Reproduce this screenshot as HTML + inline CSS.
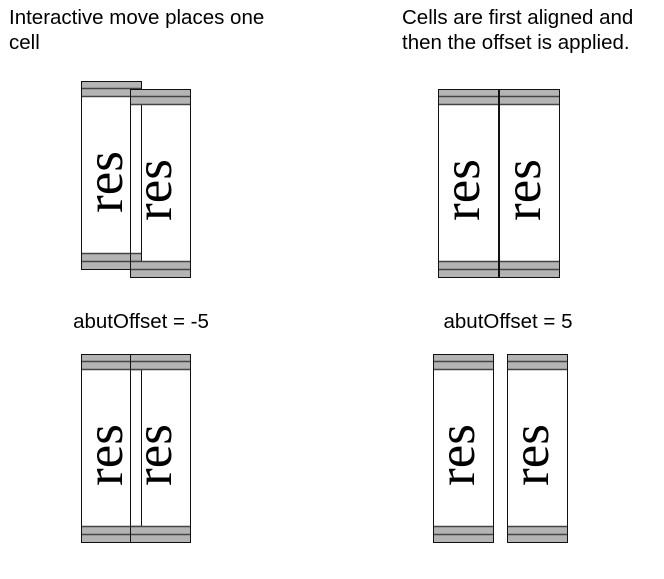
<!DOCTYPE html>
<html><head><meta charset="utf-8"><style>
html,body{margin:0;padding:0;background:#fff;width:664px;height:579px;overflow:hidden}
svg{display:block}
</style></head><body>
<svg id="d" width="664" height="579" viewBox="0 0 664 579">
<g font-family="Liberation Sans, sans-serif" font-size="20.5" fill="#000">
<text x="9" y="24">Interactive move places one</text>
<text x="9" y="49">cell</text>
<text x="402" y="24">Cells are first aligned and</text>
<text x="402" y="49">then the offset is applied.</text>
<text x="141" y="328" text-anchor="middle">abutOffset = -5</text>
<text x="508" y="328" text-anchor="middle">abutOffset = 5</text>
</g>
<g id="fills"></g>
<g id="cells"></g>
</svg>
<script>
const cellX=[81,130,438,499,81,130,433,507];
const cellY=[81,89,89,89,354,354,354,354];
const W=60,H=188;
const f=document.getElementById('fills');
const g=document.getElementById('cells');
const NS='http://www.w3.org/2000/svg';
function mk(t,a){const e=document.createElementNS(NS,t);for(const k in a)e.setAttribute(k,a[k]);return e;}
cellX.forEach((x,i)=>{
  const y=cellY[i];
  f.appendChild(mk('rect',{x:x,y:y,width:W,height:H,fill:'#fff'}));
});
cellX.forEach((x,i)=>{
  const y=cellY[i];
  const c=mk('g',{});
  
  
  c.appendChild(mk('rect',{x:x,y:y,width:W,height:15,fill:'#b4b4b4'}));
  c.appendChild(mk('rect',{x:x,y:y+H-15,width:W,height:15,fill:'#b4b4b4'}));
  [y+7.5,y+15.5,y+H-15.5,y+H-7.5].forEach(ly=>c.appendChild(mk('line',{x1:x,x2:x+W,y1:ly,y2:ly,stroke:'#444','stroke-width':1.5})));
  c.appendChild(mk('rect',{x:x+0.5,y:y+0.5,width:W,height:H,fill:'none',stroke:'#111','stroke-width':1}));
  const t=mk('text',{x:0,y:0,'font-family':'Liberation Serif, serif','font-size':53,'text-anchor':'middle',transform:`translate(${x+41},${y+H/2+7}) rotate(-90)`});
  t.textContent='res';
  
  
  c.appendChild(t);
  g.appendChild(c);
});
</script>
</body></html>
